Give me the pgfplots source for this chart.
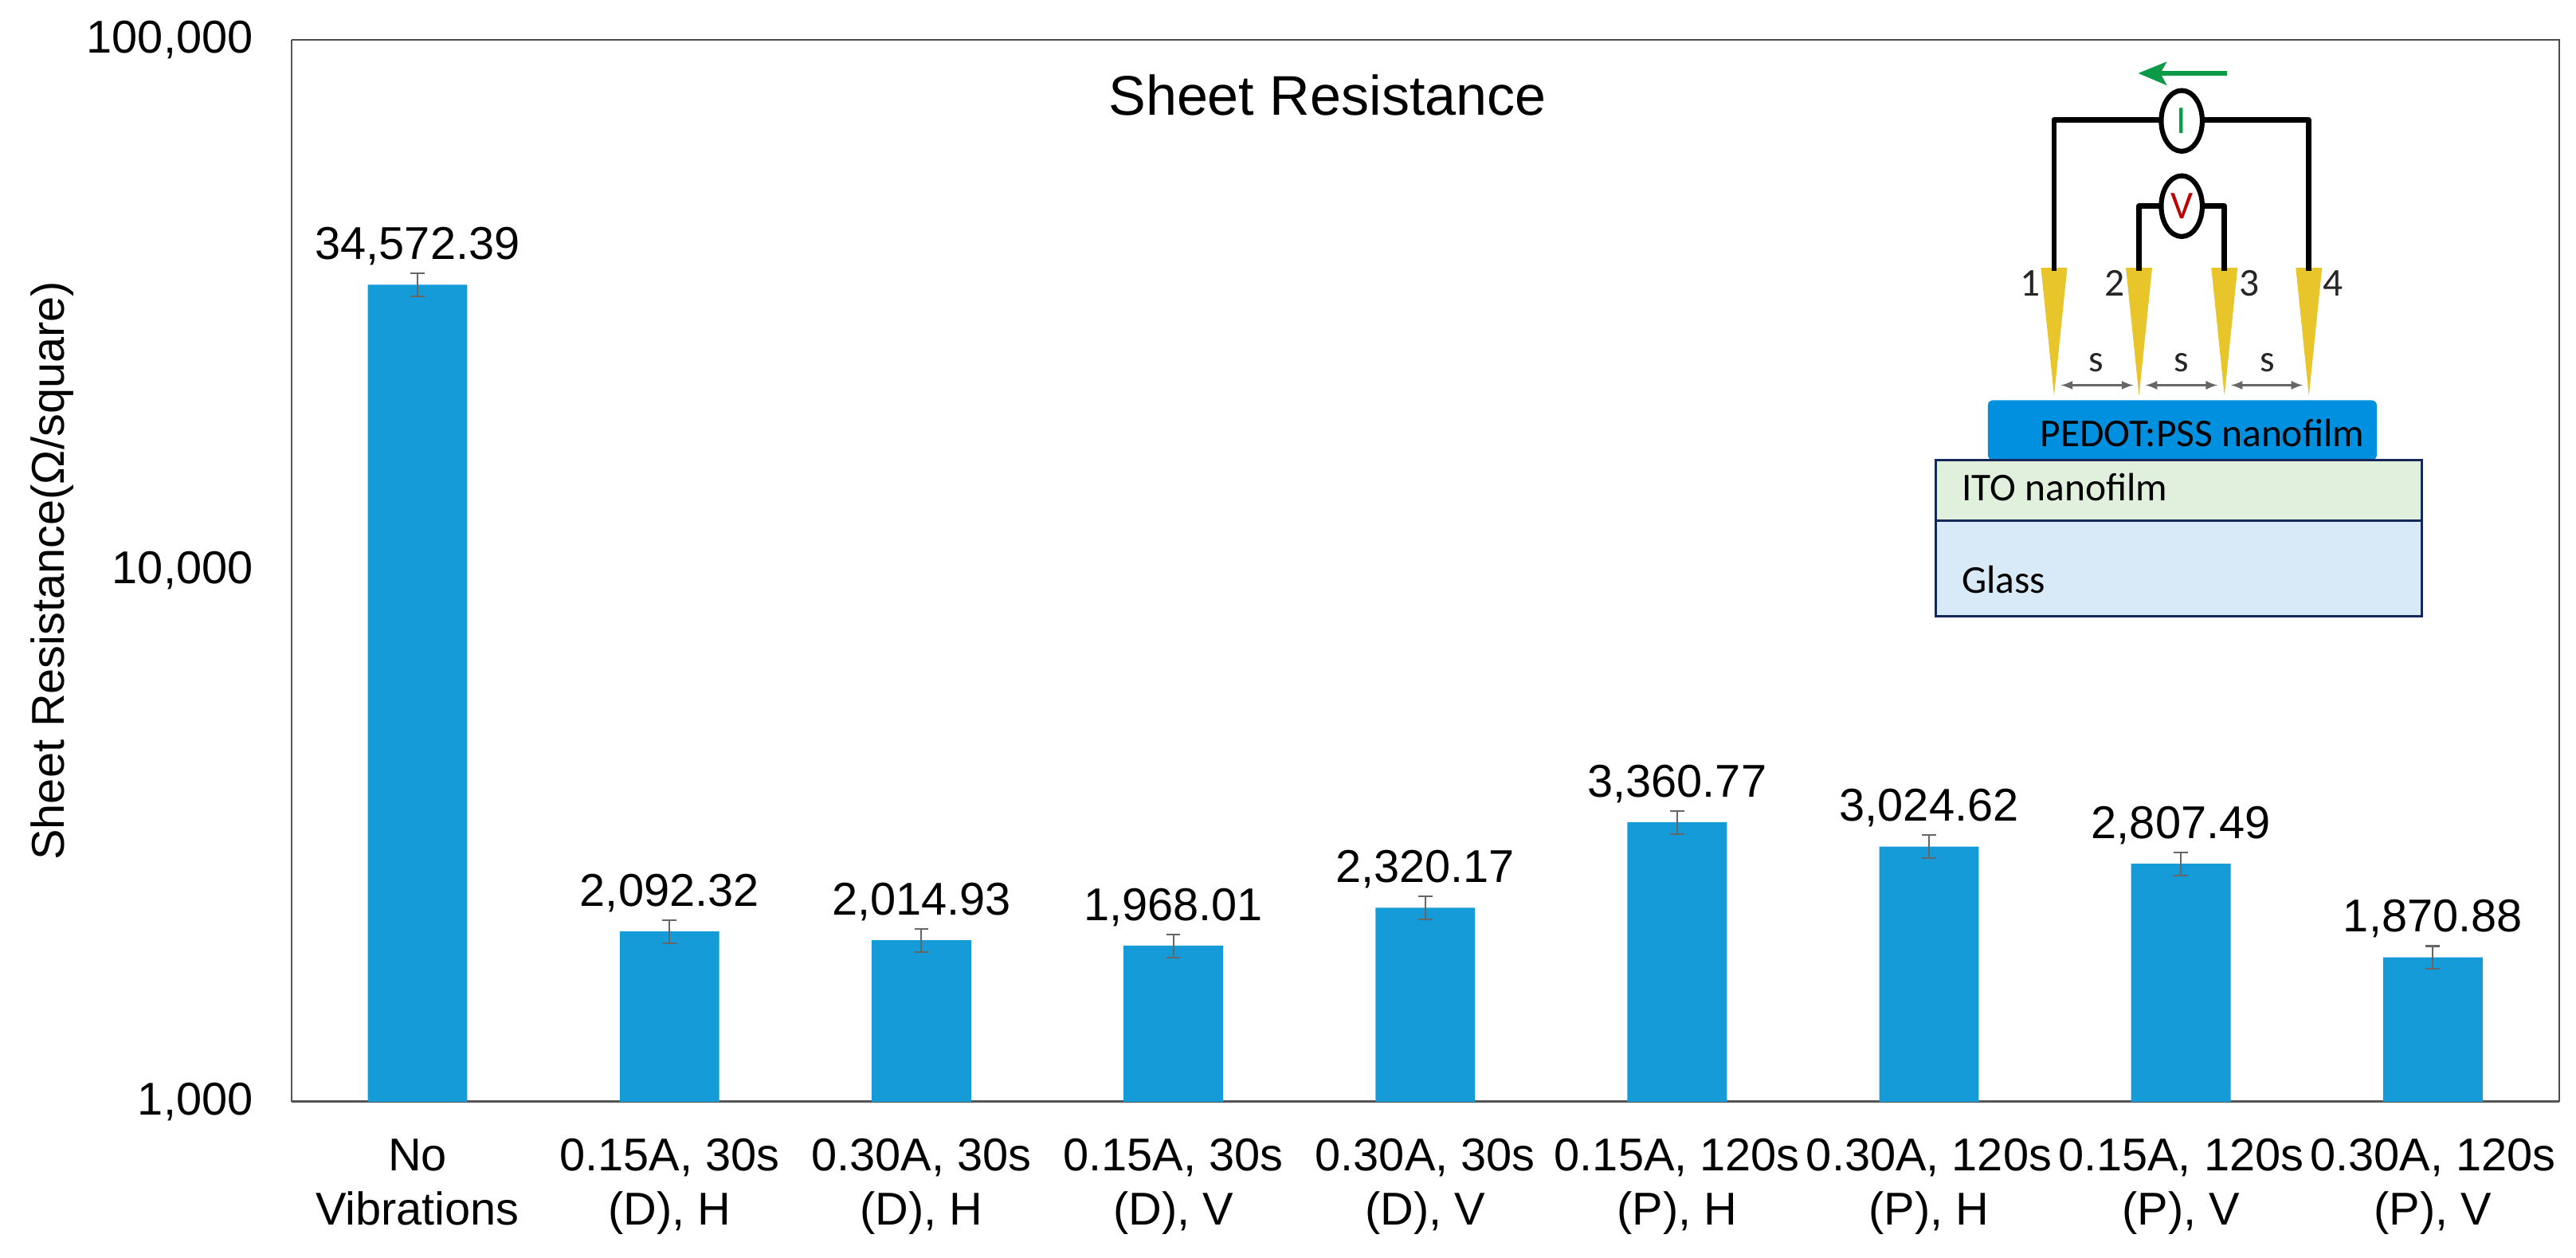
\documentclass[border=0pt]{standalone}
\usepackage{fontspec}
\setmainfont{Liberation Sans}
\newfontfamily\sketchfont{Carlito}
\usepackage{pgfplots}
\usepackage{pgfplotstable}
\pgfplotsset{compat=1.18}
\definecolor{barblue}{HTML}{159CD8}
\definecolor{filmblue}{HTML}{0090E0}
\definecolor{axisgrey}{HTML}{555555}
\definecolor{errgrey}{HTML}{666666}
\definecolor{probe}{HTML}{E8C52A}
\definecolor{itogreen}{HTML}{E0F0DC}
\definecolor{glassblue}{HTML}{D8EAF7}
\definecolor{boxnavy}{HTML}{14285A}
\definecolor{arrowgreen}{HTML}{0A9A48}

\pgfplotstableread{
x  y         err      lab
0  34572.39  1728.6   {34,572.39}
1  2092.32   104.6    {2,092.32}
2  2014.93   100.7    {2,014.93}
3  1968.01   98.4     {1,968.01}
4  2320.17   116.0    {2,320.17}
5  3360.77   168.0    {3,360.77}
6  3024.62   151.2    {3,024.62}
7  2807.49   140.4    {2,807.49}
8  1870.88   93.5     {1,870.88}
}\sheetdata

\newcommand{\fs}{\fontsize{28}{33}\selectfont}
\begin{document}
\begin{tikzpicture}[x=1pt,y=1pt]
\path[use as bounding box] (-177.5,-95.1) rectangle (1390.5,670.7);
\begin{axis}[
  at={(0,0)},anchor=south west,
  scale only axis,
  width=1380.5pt,height=646.5pt,
  ymode=log,
  log basis y=10,
  log origin=infty,
  ymin=1000,ymax=100000,
  xmin=-0.5,xmax=8.503,
  axis line style={axisgrey,line width=1.4pt},
  axis x line*=bottom,
  axis y line*=left,
  tick style={draw=none},
  xtick={0,...,8},
  xticklabels={{No\\Vibrations},{0.15A, 30s\\(D), H},{0.30A, 30s\\(D), H},{0.15A, 30s\\(D), V},{0.30A, 30s\\(D), V},{0.15A, 120s\\(P), H},{0.30A, 120s\\(P), H},{0.15A, 120s\\(P), V},{0.30A, 120s\\(P), V}},
  xticklabel style={font=\fs,align=center,yshift=-19pt},
  ytick={1000,10000,100000},
  yticklabels={{1,000},{10,000},{100,000}},
  yticklabel style={font=\fs,xshift=-20pt},
  ylabel={Sheet Resistance(Ω/square)},
  every axis y label/.style={at={(axis description cs:0,0.5)},anchor=base,rotate=90,yshift=138.5pt,font=\fs},
  clip=false,
]
\addplot[ybar,bar width=0.395,fill=barblue,draw=none,
  error bars/.cd,y dir=both,y explicit,
  error bar style={errgrey,line width=1pt},
  error mark options={errgrey,rotate=90,mark size=4.3pt,line width=1pt}]
  table[x=x,y=y,y error=err] {\sheetdata};
\addplot[only marks,mark=none,
  nodes near coords,
  point meta=explicit symbolic,
  nodes near coords style={font=\fs,anchor=base,yshift=15.4pt,black}]
  table[x=x,y=y,meta=lab] {\sheetdata};
\end{axis}
% top and right frame, thinner than the two axes
\draw[black!70,line width=1pt] (0,646.5) -- (1380.5,646.5) -- (1380.5,0);
\node[font=\fontsize{34}{40}\selectfont,anchor=center] at (630.5,612.7) {Sheet Resistance};

% four point probe sketch
\begin{scope}[shift={(-177.5,670.7)},y=-1pt,font=\sketchfont]
\fill[filmblue,rounded corners=3pt] (1210,280) -- (1210,243.7) -- (1446.7,243.7) -- (1446.7,280) -- cycle;
\node[font=\sketchfont\fontsize{24}{28}\selectfont,anchor=base west,inner sep=0pt] at (1241.6,272) {PEDOT:PSS nanofilm};
\draw[boxnavy,line width=1.4pt,fill=itogreen] (1178.3,280) rectangle (1474.2,316.8);
\draw[boxnavy,line width=1.4pt,fill=glassblue] (1178.3,316.8) rectangle (1474.2,375);
\node[font=\sketchfont\fontsize{24}{28}\selectfont,anchor=base west,inner sep=0pt] at (1194,305) {ITO nanofilm};
\node[font=\sketchfont\fontsize{24}{28}\selectfont,anchor=base west,inner sep=0pt] at (1194,361) {Glass};
\foreach \px in {1250.3,1302,1354,1405.4}{
  \fill[probe] (\px-8,163) -- (\px+8,163) -- (\px,241) -- cycle;
}
\draw[black,line width=3.2pt,line join=round] (1250.3,165) -- (1250.3,73) -- (1405.4,73) -- (1405.4,165);
\draw[black,line width=3.2pt,line join=round] (1302,165) -- (1302,125.5) -- (1354,125.5) -- (1354,165);
\draw[black,line width=3pt,fill=white] (1328,73.6) ellipse (12.5 and 18.5);
\draw[black,line width=3pt,fill=white] (1328,125.5) ellipse (12.5 and 18.5);
\node[font=\sketchfont\fontsize{24}{28}\selectfont,text=arrowgreen] at (1328,73.6) {I};
\node[font=\sketchfont\fontsize{24}{28}\selectfont,text=red!75!black] at (1328,125.5) {V};
\draw[arrowgreen,line width=3pt] (1355.4,44.6) -- (1312,44.6);
\fill[arrowgreen] (1301.5,44.6) -- (1319,37.5) -- (1315,44.6) -- (1319,52) -- cycle;
\foreach \lx/\t in {1236/1,1287/2,1369/3,1420/4}{
  \node[font=\sketchfont\fontsize{24}{28}\selectfont,text=black!85] at (\lx,172.5) {\t};
}
\foreach \lx/\ly in {1254.5/1298.5,1306/1349.7,1358/1401.7}{
  \draw[black!60,line width=1.4pt,latex-latex] (\lx,234.5) -- (\ly,234.5);
}
\foreach \lx in {1276,1328,1380}{
  \node[font=\sketchfont\fontsize{23}{26}\selectfont,text=black!85] at (\lx,221) {s};
}
\end{scope}
\end{tikzpicture}
\end{document}
